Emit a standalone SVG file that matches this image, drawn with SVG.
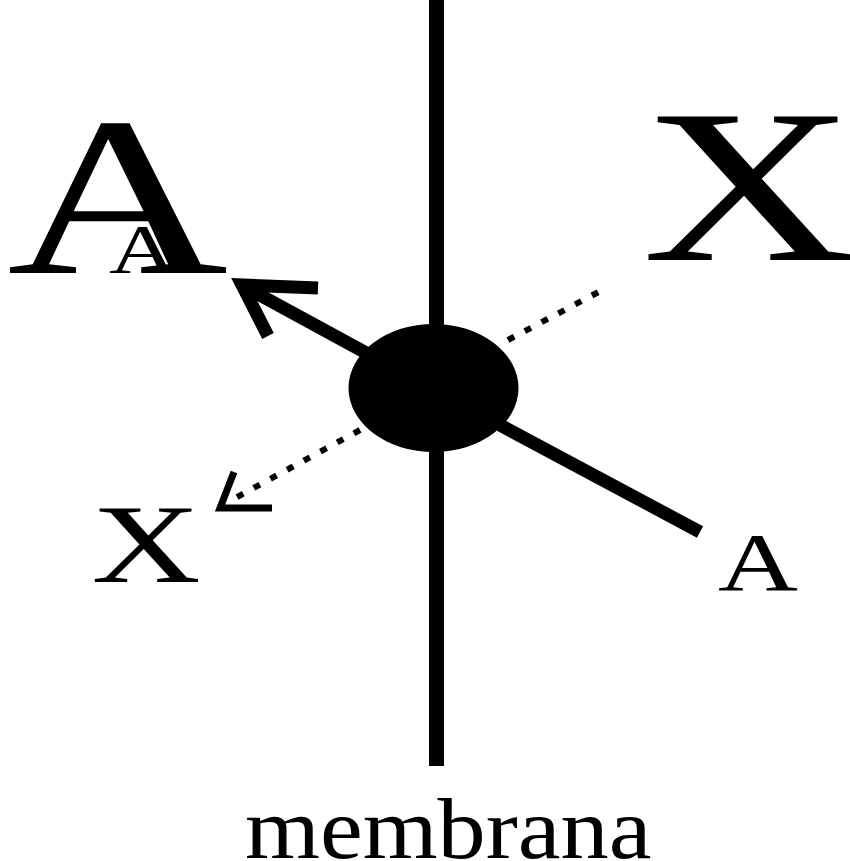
<svg xmlns="http://www.w3.org/2000/svg" width="850" height="861" viewBox="0 0 850 861">
<style>
.t{font-family:"Liberation Serif","Times New Roman",serif;fill:#000}
.solid{stroke:#000;stroke-width:13;fill:none}
.dot{stroke:#000;stroke-width:6;fill:none;stroke-dasharray:7 12}
</style>
<rect width="850" height="861" fill="#fff"/>
<g id="membrane">
<line x1="436.5" y1="0" x2="436.5" y2="766" stroke="#000" stroke-width="15"/>
</g>
<g id="connectors">
<line class="solid" x1="370" y1="355" x2="245" y2="287"/>
<polyline class="solid" points="318,288 242,285 268,336" stroke-linejoin="miter"/>
<line class="dot" x1="508" y1="340" x2="608" y2="287"/>
<line class="dot" x1="360" y1="430" x2="228" y2="502"/>
<polyline points="272,508 220,508 234,472" fill="none" stroke="#000" stroke-width="7" stroke-linejoin="miter"/>
<line class="solid" x1="500" y1="425" x2="700" y2="532"/>
</g>
<g id="carrier">
<ellipse cx="433.5" cy="388" rx="85" ry="64" fill="#000"/>
</g>
<g id="label-A-big"><text class="t" font-size="227" transform="translate(7,273) scale(1.35,1)">A</text>
<text class="t" font-size="70" transform="translate(109,273) scale(1.35,1)">A</text></g>
<g id="label-X-big"><text class="t" font-size="219" transform="translate(642,260) scale(1.35,1)">X</text></g>
<g id="label-X-small"><text class="t" font-size="112" transform="translate(91.5,582) scale(1.35,1)">X</text></g>
<g id="label-A-small"><text class="t" font-size="82" transform="translate(718,590) scale(1.35,1)">A</text></g>
<g id="label-membrana"><text class="t" font-size="86" transform="translate(245,858) scale(1.12,1)">membrana</text></g>
</svg>
